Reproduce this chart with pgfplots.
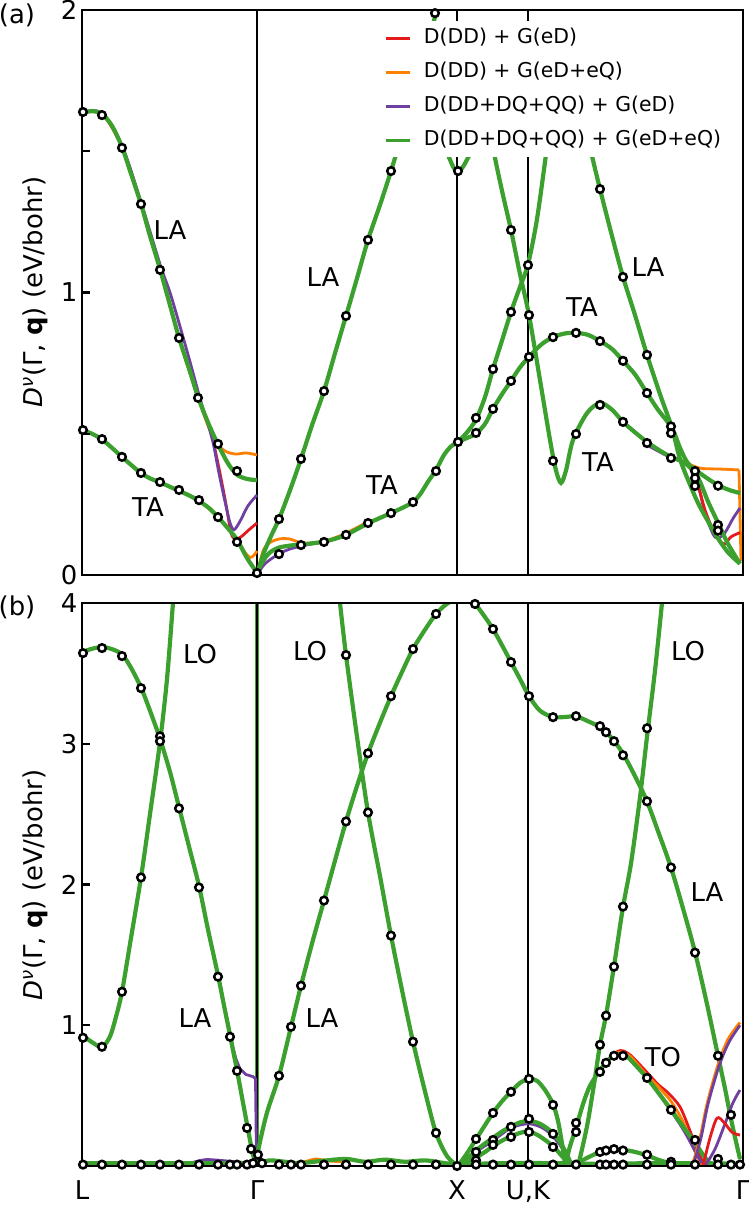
\documentclass[border=0pt]{standalone}
\usepackage{fontspec}
\setmainfont{DejaVu Sans}
\usepackage{pgfplots}
\pgfplotsset{compat=1.18}
\definecolor{cR}{RGB}{228,26,28}
\definecolor{cO}{RGB}{255,127,0}
\definecolor{cP}{RGB}{112,64,160}
\definecolor{cG}{RGB}{59,160,45}
\tikzset{lab/.style={font=\fontsize{26}{30}\selectfont}}
\pgfplotsset{
 G/.style={color=cG, line width=4.2bp, smooth, tension=0.5, no markers, forget plot},
 R/.style={color=cR, line width=2.8bp, smooth, tension=0.5, no markers, forget plot},
 O/.style={color=cO, line width=2.8bp, smooth, tension=0.5, no markers, forget plot},
 P/.style={color=cP, line width=2.8bp, smooth, tension=0.5, no markers, forget plot},
 C/.style={only marks, mark=*, mark size=3.8bp, mark options={fill=white, draw=black, line width=2.5bp}, forget plot},
 V/.style={color=black, line width=1.4bp, no markers, forget plot},
 base/.style={scale only axis, width=661bp, xmin=82, xmax=743, axis on top,
   every axis/.append style={line width=2.8bp},
   axis line style={line width=2.8bp}, ytick pos=left, tick align=inside,
   major tick length=8bp, minor tick length=8bp, tick style={black, line width=2.2bp},
   ticklabel style={font=\fontsize{26}{30}\selectfont},
   /pgf/number format/assume math mode=true},
}
\begin{document}
\begin{tikzpicture}[x=1bp,y=1bp]
\path[use as bounding box] (-82bp,-39bp) rectangle (667bp,1166bp);
% ===================== panel (b) =====================
\begin{axis}[base, at={(0bp,0bp)}, anchor=south west, height=563bp, ymin=0, ymax=4,
  ytick={1,2,3,4}, xtick={82,257,457,528,743}, xticklabels={L,Γ,X,{U,K},Γ},
  xtick style={draw=none}, xticklabel style={yshift=-10bp}]
\addplot[G] coordinates {(257,0) (257,4)};
\addplot[V] coordinates {(257,0) (257,4)};
\addplot[V] coordinates {(457,0) (457,4)};
\addplot[V] coordinates {(528,0) (528,4)};
% L-Gamma
\addplot[color=cP, line width=2.8bp, no markers, forget plot] coordinates {(218,1.36) (222,1.22) (226,1.08) (230,0.95) (233,0.84) (236,0.76) (240,0.69) (246,0.65) (253,0.635) (255.5,0.62) (256.5,0.03)};
\addplot[P] coordinates {(190,0.02) (205,0.045) (220,0.04) (235,0.03) (250,0.02)};
\addplot[G] coordinates {(82,3.65) (92,3.675) (102,3.687) (112,3.672) (122,3.635) (131,3.54) (141,3.40) (150,3.235) (160,3.035) (170,2.80) (179,2.55) (189,2.27) (199,1.99) (208,1.68) (218,1.355) (224,1.14) (230,0.93) (237,0.68) (243,0.45) (248,0.26) (253,0.08) (257,0.02)};
\addplot[G] coordinates {(82,0.93) (92,0.88) (102,0.845) (110,0.92) (116,1.06) (122,1.238) (131,1.62) (141,2.05) (150,2.50) (160,3.01) (167,3.46) (173,4.0) (175,4.15)};
\addplot[G] coordinates {(82,0.02) (140,0.02) (200,0.02) (257,0.02)};
% Gamma-X
\addplot[O] coordinates {(290,0.02) (305,0.03) (315,0.05) (330,0.035) (345,0.03)};
\addplot[G] coordinates {(257,0.02) (270,0.04) (285,0.03) (300,0.02) (320,0.035) (346,0.05) (365,0.03) (385,0.045) (405,0.03) (425,0.04) (445,0.02) (457,0.01)};
\addplot[G] coordinates {(257,0.05) (259,0.14) (267,0.38) (279,0.641) (291,0.989) (301,1.281) (312,1.58) (324,1.886) (335,2.17) (346,2.448) (357,2.70) (368,2.932) (380,3.15) (391,3.338) (402,3.51) (413,3.673) (425,3.81) (436,3.922) (447,3.995) (457,4.025) (466,4.02) (475,3.993) (484,3.91) (493,3.815) (502,3.70) (511,3.58) (520,3.46) (529,3.338) (540,3.235) (553,3.19) (565,3.19) (576,3.195) (588,3.16) (600,3.12) (606,3.085) (614,3.02) (623,2.93) (635,2.77) (647,2.59) (659,2.36) (671,2.12) (683,1.83) (695,1.52) (707,1.15) (718,0.783) (725,0.55) (732,0.30) (740,0.05)};
\addplot[G] coordinates {(338,4.15) (340,4.0) (346,3.63) (357,3.05) (368,2.512) (380,2.06) (391,1.637) (402,1.25) (413,0.883) (425,0.53) (436,0.235) (447,0.07) (457,0.005)};
% X-U,K-Gamma
\addplot[G] coordinates {(457,0.01) (500,0.02) (560,0.02) (600,0.015) (650,0.02) (700,0.02) (740,0.015)};
\addplot[P] coordinates {(458,0.0) (476,0.1) (493,0.18) (511,0.27) (529,0.30) (545,0.26) (560,0.15) (570,0.02)};
\addplot[G] coordinates {(458,0.0) (467,0.09) (476,0.19) (485,0.29) (493,0.377) (502,0.46) (511,0.527) (520,0.59) (529,0.62) (537,0.605) (545,0.54) (553,0.44) (558,0.32) (562,0.16) (565,0.02)};
\addplot[G] coordinates {(458,0.0) (467,0.05) (476,0.11) (485,0.16) (493,0.20) (502,0.245) (511,0.28) (520,0.31) (529,0.32) (540,0.3) (553,0.235) (560,0.17) (567,0.08) (572,0.0)};
\addplot[G] coordinates {(458,0.0) (467,0.03) (476,0.06) (485,0.1) (493,0.14) (502,0.18) (511,0.21) (520,0.235) (529,0.245) (540,0.21) (553,0.14) (562,0.07) (570,0.01)};
\addplot[R] coordinates {(600,0.68) (610,0.77) (620,0.82) (630,0.79) (645,0.68) (658,0.58) (668,0.52) (680,0.42) (690,0.25) (698,0.1) (705,0.0)};
\addplot[O] coordinates {(600,0.68) (610,0.77) (620,0.81) (630,0.78) (645,0.66) (660,0.55) (672,0.45) (684,0.3) (694,0.12) (702,0.0)};
\addplot[P] coordinates {(600,0.67) (610,0.76) (620,0.79) (630,0.76) (645,0.64) (660,0.5) (672,0.38) (684,0.25) (694,0.12) (702,0.02)};
\addplot[G] coordinates {(565,0.0) (570,0.14) (576,0.27) (583,0.44) (590,0.57) (600,0.68) (607,0.745) (614,0.785) (620,0.795) (626,0.785) (635,0.72) (647,0.625) (659,0.515) (671,0.40) (683,0.28) (695,0.165) (705,0.06) (712,0.0)};
\addplot[G] coordinates {(578,0.0) (583,0.15) (588,0.32) (594,0.58) (600,0.861) (606,1.07) (614,1.42) (623,1.84) (631,2.15) (640,2.62) (647,3.05) (655,3.52) (662,4.0) (664,4.15)};
\addplot[G] coordinates {(572,0.0) (585,0.05) (600,0.1) (612,0.118) (623,0.115) (635,0.1) (647,0.075) (660,0.04) (675,0.01)};
\addplot[O] coordinates {(692,0.0) (700,0.2) (707,0.44) (718,0.72) (728,0.9) (740,1.02)};
\addplot[P] coordinates {(693,0.0) (701,0.2) (708,0.44) (719,0.71) (729,0.88) (740,1.0)};
\addplot[P] coordinates {(705,0.0) (715,0.12) (725,0.3) (733,0.45) (740,0.54)};
\addplot[R] coordinates {(703,0.0) (710,0.2) (717,0.34) (724,0.31) (732,0.24) (740,0.22)};
% circles
\addplot[C] coordinates {(83,3.644) (102,3.68) (122,3.623) (141,3.395) (160,3.053) (160,3.018) (179,2.541) (199,1.979) (218,1.345) (230,0.918) (237,0.676) (247,0.270) (251,0.121)
 (83,0.911) (102,0.847) (122,1.238) (141,2.05)
 (83,0.01) (102,0.01) (122,0.01) (141,0.01) (160,0.01) (179,0.01) (199,0.01) (218,0.01) (230,0.01) (237,0.01) (247,0.01) (253,0.02) (258,0.08) (262,0.02)
 (279,0.641) (291,0.989) (301,1.281) (324,1.886) (346,2.448) (368,2.932) (391,3.338) (413,3.673) (436,3.922) (475,3.993) (493,3.815) (511,3.580) (529,3.338) (553,3.189) (576,3.196) (600,3.125) (606,3.082) (614,3.018) (623,2.918) (647,2.591) (671,2.121) (695,1.516) (718,0.783)
 (346,3.63) (368,2.512) (391,1.637) (413,0.883) (436,0.235) (457,0.0)
 (279,0.01) (291,0.01) (301,0.01) (324,0.01) (346,0.01) (368,0.01) (391,0.01) (413,0.01) (436,0.01)
 (476,0.192) (493,0.377) (511,0.527) (529,0.619) (553,0.434)
 (476,0.1) (493,0.185) (493,0.15) (511,0.278) (529,0.335) (553,0.228) (576,0.306) (576,0.242)
 (511,0.206) (529,0.242) (553,0.135) (476,0.04)
 (600,0.669) (606,0.733) (614,0.783) (623,0.783) (647,0.626) (671,0.399) (695,0.185) (718,0.05)
 (600,0.861) (606,1.068) (614,1.416) (623,1.843) (647,3.11)
 (600,0.1) (606,0.11) (614,0.12) (623,0.11) (647,0.08) (671,0.03)
 (731,0.363)
 (476,0.01) (493,0.01) (511,0.01) (529,0.01) (553,0.01) (576,0.01) (600,0.01) (606,0.01) (614,0.01) (623,0.01) (647,0.01) (671,0.01) (695,0.01) (718,0.01) (731,0.01) (740,0.01)};
\node[lab] at (axis cs:200,3.637) {LO};
\node[lab] at (axis cs:310,3.658) {LO};
\node[lab] at (axis cs:195,1.053) {LA};
\node[lab] at (axis cs:322,1.053) {LA};
\node[lab] at (axis cs:688,3.658) {LO};
\node[lab] at (axis cs:707,1.943) {LA};
\node[lab] at (axis cs:663,0.776) {TO};
\end{axis}
% ===================== panel (a) =====================
\begin{axis}[base, at={(0bp,591bp)}, anchor=south west, height=565bp, ymin=0, ymax=2,
  ytick={0,1,2}, minor ytick={0.5,1.5}, xtick=\empty,
  legend style={draw=none, fill=white, at={(axis cs:376,1.965)}, anchor=north west,
    font=\fontsize{20.5}{24}\selectfont, row sep=14bp, column sep=0bp, inner sep=7bp,
    nodes={text height=15bp, text depth=5bp, inner sep=0bp}, cells={anchor=west}},
  legend image code/.code={\draw[#1] (0bp,0bp) -- (24bp,0bp); \path (36bp,0bp);}]
\addplot[V] coordinates {(257,0) (257,2)};
\addplot[V] coordinates {(457,0) (457,2)};
\addplot[V] coordinates {(528,0) (528,2)};
% L-Gamma
\addplot[R] coordinates {(82,1.636) (102,1.632) (122,1.515) (141,1.313) (160,1.083) (179,0.84) (198,0.63) (208,0.54) (214,0.46) (220,0.36) (226,0.25) (231,0.15) (235,0.127) (241,0.135) (249,0.16) (257,0.184)};
\addplot[O] coordinates {(82,1.636) (102,1.632) (122,1.515) (141,1.313) (160,1.083) (179,0.84) (198,0.63) (209,0.52) (218,0.462) (226,0.437) (236,0.428) (246,0.432) (257,0.425)};
\addplot[P] coordinates {(82,1.636) (102,1.636) (122,1.52) (141,1.32) (160,1.10) (170,1.0) (180,0.88) (190,0.755) (200,0.625) (207,0.545) (213,0.47) (219,0.36) (225,0.26) (230,0.185) (234,0.16) (240,0.19) (248,0.245) (257,0.283)};
\addplot[G] coordinates {(82,1.636) (92,1.642) (102,1.632) (112,1.59) (122,1.515) (131,1.42) (141,1.313) (150,1.20) (160,1.083) (170,0.955) (179,0.84) (190,0.72) (198,0.63) (208,0.54) (218,0.462) (228,0.395) (237,0.355) (247,0.34) (257,0.336)};
\addplot[O] coordinates {(199,0.265) (218,0.205) (237,0.125) (245,0.08) (250,0.062) (254,0.07) (257,0.085)};
\addplot[G] coordinates {(82,0.513) (92,0.50) (102,0.48) (112,0.45) (122,0.418) (131,0.39) (141,0.361) (150,0.342) (160,0.328) (170,0.312) (179,0.298) (190,0.28) (199,0.262) (209,0.237) (218,0.205) (228,0.165) (237,0.125) (247,0.06) (257,0.008)};
% Gamma-X
\addplot[O] coordinates {(257,0.0) (263,0.085) (270,0.115) (280,0.128) (290,0.127) (301,0.114) (312,0.113) (324,0.12) (335,0.132) (346,0.148) (357,0.168) (368,0.188)};
\addplot[P] coordinates {(257,0.0) (265,0.04) (279,0.075) (290,0.092) (301,0.102) (312,0.11) (324,0.117)};
\addplot[G] coordinates {(257,0.008) (263,0.05) (270,0.08) (279,0.097) (290,0.104) (301,0.108) (312,0.112) (324,0.118) (335,0.128) (346,0.142) (357,0.162) (368,0.183) (380,0.202) (391,0.219) (402,0.237) (413,0.258) (420,0.285) (428,0.33) (436,0.372) (444,0.425) (451,0.455) (458,0.471)};
\addplot[G] coordinates {(257,0.0) (263,0.07) (270,0.13) (279,0.198) (290,0.30) (301,0.411) (312,0.53) (324,0.651) (335,0.785) (346,0.917) (357,1.05) (368,1.186) (380,1.31) (391,1.43) (402,1.56) (413,1.70) (425,1.85) (437,2.0) (445,2.1)};
\addplot[G] coordinates {(439,1.62) (442,1.56) (445,1.515) (450,1.47) (454,1.44) (458,1.43) (462,1.44) (467,1.47) (473,1.515) (476,1.56) (479,1.62)};
% X-U,K-Gamma
\addplot[G] coordinates {(458,0.471) (467,0.505) (476,0.55) (485,0.63) (493,0.729) (502,0.83) (511,0.931) (520,1.02) (528,1.10) (537,1.26) (547,1.515) (553,1.68) (558,1.85)};
\addplot[O] coordinates {(688,0.395) (700,0.378) (720,0.375) (739,0.372)};
\addplot[color=cO, line width=2.8bp, no markers, forget plot] coordinates {(739,0.372) (741,0.05)};
\addplot[P] coordinates {(647,0.46) (660,0.435) (671,0.415) (688,0.39) (697,0.33) (705,0.22) (713,0.145) (718,0.13) (725,0.15) (733,0.2) (740,0.237)};
\addplot[R] coordinates {(688,0.39) (697,0.33) (705,0.23) (713,0.16) (720,0.12) (725,0.11) (731,0.135) (740,0.15)};
\addplot[G] coordinates {(458,0.471) (467,0.485) (476,0.50) (485,0.535) (493,0.588) (502,0.64) (511,0.687) (520,0.735) (529,0.772) (541,0.815) (553,0.842) (565,0.855) (576,0.857) (588,0.85) (600,0.828) (612,0.80) (623,0.758) (635,0.71) (647,0.644) (658,0.585) (672,0.52) (680,0.45) (688,0.395) (700,0.36) (718,0.318) (730,0.30) (740,0.29)};
\addplot[G] coordinates {(485,1.85) (489,1.65) (493,1.515) (502,1.36) (511,1.221) (520,1.065) (529,0.92) (540,0.69) (550,0.478) (556,0.37) (561,0.326) (566,0.37) (573,0.478) (587,0.573) (600,0.609) (612,0.585) (623,0.542) (635,0.505) (647,0.471) (660,0.44) (671,0.418) (683,0.40) (693,0.37) (700,0.33) (708,0.26) (718,0.185) (728,0.11) (740,0.04)};
\addplot[G] coordinates {(575,1.85) (583,1.65) (590,1.515) (600,1.366) (612,1.20) (623,1.055) (635,0.92) (647,0.779) (660,0.64) (672,0.52) (680,0.41) (690,0.32) (698,0.255) (708,0.19) (717,0.135) (728,0.08) (740,0.04)};
% circles
\addplot[C] coordinates {(83,1.639) (102,1.628) (122,1.512) (141,1.313) (160,1.080) (179,0.839) (198,0.627) (218,0.464) (237,0.368)
 (83,0.513) (102,0.481) (122,0.418) (141,0.361) (160,0.329) (179,0.301) (199,0.265) (218,0.205) (237,0.117) (257,0.007)
 (279,0.074) (301,0.106) (324,0.117) (346,0.142) (368,0.184) (391,0.219) (413,0.258) (436,0.368) (458,0.471)
 (279,0.198) (301,0.411) (324,0.651) (346,0.917) (368,1.186) (391,1.430) (435,1.989) (458,1.43)
 (476,0.556) (476,0.503) (493,0.729) (493,0.588) (511,0.931) (511,0.687) (529,0.920) (529,0.772) (553,0.842) (553,0.404) (576,0.857) (576,0.499) (600,0.828) (600,0.602) (623,0.758) (623,0.542) (647,0.779) (647,0.644) (647,0.467) (671,0.526) (671,0.502) (671,0.414) (695,0.368) (695,0.343) (695,0.315) (718,0.316) (718,0.177) (718,0.157)
 (511,1.221) (528,1.097) (600,1.366) (623,1.055) (493,1.515)};
\node[lab] at (axis cs:170,1.221) {LA};
\node[lab] at (axis cs:148,0.241) {TA};
\node[lab] at (axis cs:323,1.055) {LA};
\node[lab] at (axis cs:382,0.319) {TA};
\node[lab] at (axis cs:582,0.949) {TA};
\node[lab] at (axis cs:598,0.40) {TA};
\node[lab] at (axis cs:648,1.09) {LA};
\addlegendimage{cR, line width=3.5bp}\addlegendentry{D(DD) + G(eD)}
\addlegendimage{cO, line width=3.5bp}\addlegendentry{D(DD) + G(eD+eQ)}
\addlegendimage{cP, line width=3.5bp}\addlegendentry{D(DD+DQ+QQ) + G(eD)}
\addlegendimage{cG, line width=3.5bp}\addlegendentry{D(DD+DQ+QQ) + G(eD+eQ)}
\end{axis}
% outer labels
\node[lab] at (-65bp,1151bp) {(a)};
\node[lab] at (-65bp,559bp) {(b)};
\node[lab, rotate=90] at (-47bp,874bp) {\textit{D}\textsuperscript{\textit{ν}}(Γ, \textbf{q}) (eV/bohr)};
\node[lab, rotate=90] at (-47bp,281bp) {\textit{D}\textsuperscript{\textit{ν}}(Γ, \textbf{q}) (eV/bohr)};
\end{tikzpicture}
\end{document}
